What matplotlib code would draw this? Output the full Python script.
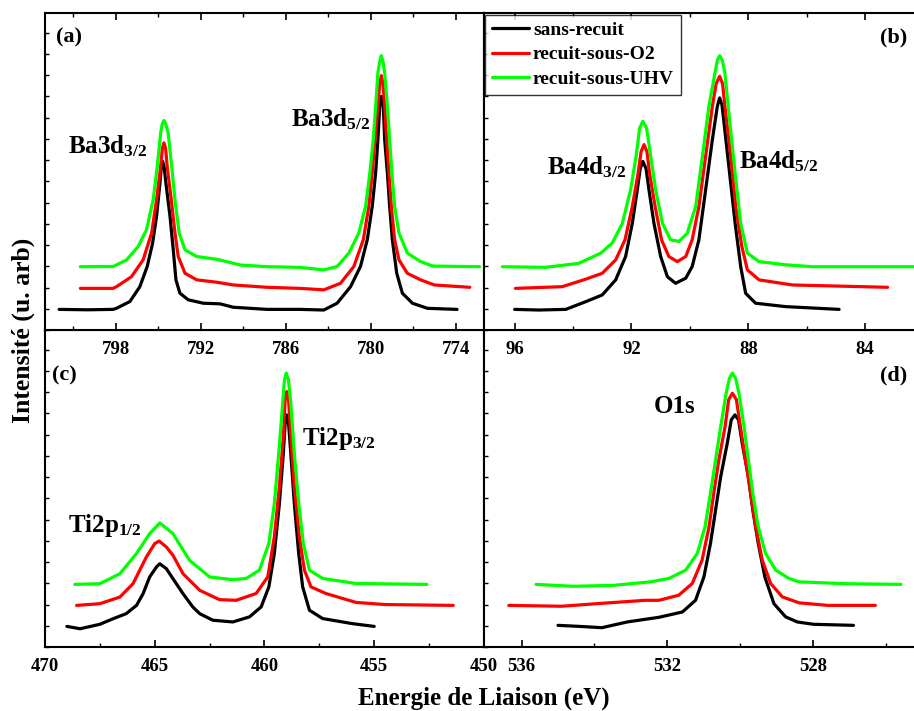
import matplotlib
matplotlib.use("Agg")
import matplotlib.pyplot as plt
from matplotlib.ticker import MultipleLocator, NullFormatter

plt.rcParams['font.family'] = ['Liberation Serif', 'DejaVu Serif']
plt.rcParams['font.weight'] = 'bold'
plt.rcParams['mathtext.fontset'] = 'custom'
plt.rcParams['mathtext.rm'] = 'Liberation Serif:bold'
plt.rcParams['mathtext.default'] = 'rm'

labels = ["sans-recuit", "recuit-sous-O2", "recuit-sous-UHV"]
colors = ["black", "red", "#00ff00"]

# (a) Ba3d
a_black_e = [802.0, 800.0, 798.2, 797.95, 797.0, 796.3, 795.78, 795.4, 795.12, 794.88, 794.79, 794.69,
             794.58, 794.46, 794.17, 793.94, 793.75, 793.47, 792.88, 791.82, 790.63, 789.7, 787.3, 785.0,
             783.31, 782.37, 781.42, 780.72, 780.24, 779.89, 779.65, 779.49, 779.36, 779.25, 779.11,
             779.01, 778.82, 778.66, 778.47, 778.16, 777.76, 777.05, 775.99, 773.9]
a_black_i = [0.97, 0.95, 0.97, 1.02, 1.34, 2.04, 2.99, 4.09, 5.35, 6.92, 7.65, 7.94,
             7.65, 6.92, 5.35, 3.77, 2.36, 1.73, 1.42, 1.26, 1.23, 1.07, 0.97, 0.97,
             0.94, 1.26, 2.04, 2.99, 4.25, 5.82, 7.39, 8.96, 10.53, 11.0, 10.53,
             8.96, 7.39, 5.82, 4.25, 2.67, 1.73, 1.26, 1.02, 0.97]
a_red_e = [800.5, 798.2, 797.95, 796.89, 796.07, 795.47, 795.12, 794.83, 794.71, 794.6, 794.48, 794.37,
           794.08, 793.82, 793.59, 793.11, 792.28, 790.87, 789.7, 787.3, 785.0, 783.31, 782.13, 781.19,
           780.52, 780.13, 779.89, 779.7, 779.49, 779.36, 779.25, 779.13, 779.01, 778.87, 778.71,
           778.54, 778.31, 778.0, 777.41, 776.47, 775.5, 773.0]
a_red_i = [1.96, 1.96, 2.04, 2.51, 3.3, 4.56, 6.13, 7.7, 8.55, 8.81, 8.55, 7.7,
           6.13, 4.56, 3.46, 2.67, 2.36, 2.25, 2.12, 2.01, 1.96, 1.89, 2.2, 2.99,
           4.25, 5.82, 7.39, 8.96, 10.53, 11.6, 11.98, 11.6, 10.53, 8.96, 7.39,
           5.82, 4.25, 3.3, 2.67, 2.36, 2.12, 2.01]
a_green_e = [800.5, 798.19, 797.24, 796.42, 795.83, 795.36, 795.07, 794.83, 794.72, 794.6, 794.47, 794.3,
             794.05, 793.82, 793.52, 793.11, 792.28, 790.87, 789.2, 787.3, 785.0, 783.31, 782.37, 781.54,
             780.84, 780.36, 780.06, 779.82, 779.65, 779.49, 779.36, 779.25, 779.13, 779.01, 778.82,
             778.66, 778.5, 778.31, 778.0, 777.41, 776.47, 775.6, 772.3]
a_green_i = [2.98, 2.99, 3.3, 3.93, 4.72, 6.13, 7.7, 9.28, 9.7, 9.87, 9.7, 9.28,
             7.7, 6.13, 4.56, 3.77, 3.46, 3.33, 3.06, 2.98, 2.95, 2.83, 2.99, 3.62,
             4.56, 5.82, 7.39, 8.96, 10.53, 12.11, 12.65, 12.92, 12.65, 12.11, 10.53,
             8.96, 7.39, 5.82, 4.56, 3.62, 3.22, 3.01, 2.98]

# (b) Ba4d
b_black_e = [96.0, 95.17, 94.25, 93.57, 93.0, 92.54, 92.2, 91.97, 91.8, 91.7, 91.61, 91.5, 91.4, 91.23,
             91.0, 90.77, 90.49, 90.14, 89.92, 89.69, 89.46, 89.23, 89.06, 88.98, 88.9, 88.83, 88.64,
             88.45, 88.26, 88.09, 87.75, 86.72, 84.89]
b_black_i = [0.97, 0.94, 0.97, 1.33, 1.65, 2.36, 3.46, 5.03, 6.6, 7.6, 7.94, 7.6, 6.6, 5.03,
             3.46, 2.51, 2.2, 2.44, 2.99, 4.25, 6.6, 8.96, 10.53, 10.93, 10.6, 9.75, 7.39,
             5.03, 2.99, 1.73, 1.26, 1.1, 0.97]
b_red_e = [95.97, 94.37, 93.57, 93.0, 92.54, 92.22, 91.97, 91.77, 91.67, 91.57, 91.47, 91.38, 91.19,
           90.97, 90.72, 90.43, 90.14, 89.92, 89.69, 89.46, 89.23, 89.1, 88.98, 88.88, 88.8, 88.6,
           88.43, 88.22, 88.03, 87.63, 86.49, 83.23]
b_red_i = [1.96, 2.04, 2.39, 2.67, 3.3, 4.25, 5.82, 7.39, 8.4, 8.73, 8.4, 7.39, 5.82,
           4.25, 3.46, 3.22, 3.46, 4.25, 5.82, 8.18, 10.53, 11.6, 11.95, 11.6, 10.53, 8.18,
           5.82, 3.93, 2.83, 2.36, 2.12, 2.01]
b_green_e = [96.42, 94.94, 93.8, 93.05, 92.66, 92.31, 92.03, 91.84, 91.72, 91.61, 91.48, 91.34, 91.17,
             90.94, 90.66, 90.37, 90.09, 89.8, 89.57, 89.35, 89.14, 89.06, 88.98, 88.89, 88.8, 88.63,
             88.45, 88.26, 88.03, 87.63, 86.72, 85.8, 82.2]
b_green_i = [2.98, 2.95, 3.14, 3.62, 4.09, 5.03, 6.6, 8.18, 9.5, 9.83, 9.5, 8.18, 6.6,
             5.03, 4.25, 4.17, 4.56, 5.82, 8.18, 10.53, 12.11, 12.7, 12.92, 12.7, 12.11, 9.75,
             7.39, 5.03, 3.62, 3.22, 3.07, 2.98, 2.98]

# (c) Ti2p
c_black_e = [469.0, 468.4, 467.5, 466.9, 466.3, 465.83, 465.53, 465.23, 464.92, 464.77, 464.47, 464.17,
             463.71, 463.26, 462.95, 462.35, 461.44, 460.68, 460.15, 459.8, 459.55, 459.32, 459.14,
             459.06, 458.99, 458.9, 458.8, 458.64, 458.44, 458.26, 457.95, 457.35, 455.99, 455.0]
c_black_i = [0.97, 0.86, 1.07, 1.33, 1.57, 1.96, 2.51, 3.3, 3.77, 3.92, 3.69, 3.22,
             2.51, 1.88, 1.57, 1.26, 1.18, 1.42, 1.89, 2.83, 4.4, 6.76, 9.12,
             10.5, 10.93, 10.5, 9.12, 6.76, 4.4, 2.83, 1.73, 1.34, 1.1, 0.97]
c_red_e = [468.56, 467.5, 466.59, 465.99, 465.38, 465.0, 464.8, 464.47, 464.17, 463.71, 462.95, 462.05,
           461.29, 460.38, 459.85, 459.55, 459.32, 459.14, 459.06, 458.99, 458.9, 458.8, 458.64, 458.41,
           458.18, 457.88, 457.2, 455.83, 454.5, 451.4]
c_red_i = [1.96, 2.04, 2.35, 2.98, 4.24, 4.87, 4.99, 4.71, 4.32, 3.45, 2.67, 2.23,
           2.2, 2.52, 3.3, 5.19, 7.55, 9.91, 11.6, 12.03, 11.6, 9.91, 7.55, 5.19,
           3.62, 2.83, 2.52, 2.1, 2.0, 1.96]
c_green_e = [468.64, 467.5, 466.59, 465.83, 465.23, 464.77, 464.17, 463.41, 462.5, 461.44, 460.83,
             460.23, 459.8, 459.55, 459.35, 459.17, 459.09, 459.01, 458.91, 458.8, 458.64, 458.44,
             458.23, 457.95, 457.35, 455.83, 452.6]
c_green_i = [2.95, 2.98, 3.45, 4.4, 5.34, 5.84, 5.34, 4.08, 3.3, 3.17, 3.23,
             3.62, 4.88, 6.76, 9.12, 11.48, 12.6, 12.9, 12.6, 11.48, 9.12, 6.76,
             4.88, 3.62, 3.23, 2.99, 2.95]

# (d) O1s
d_black_e = [535.0, 534.4, 533.8, 533.1, 532.23, 531.59, 531.23, 531.0, 530.82, 530.68, 530.54, 530.36,
             530.25, 530.15, 530.05, 529.95, 529.78, 529.66, 529.51, 529.33, 529.08, 528.76, 528.44,
             528.0, 526.9]
d_black_i = [1.02, 0.97, 0.91, 1.18, 1.4, 1.65, 2.2, 3.3, 4.88, 6.45, 8.02, 9.59,
             10.7, 10.93, 10.7, 9.59, 8.02, 6.45, 4.88, 3.3, 2.04, 1.42, 1.18,
             1.07, 1.02]
d_red_e = [536.35, 534.9, 533.7, 532.6, 532.23, 531.69, 531.32, 531.05, 530.86, 530.73, 530.59, 530.42,
           530.32, 530.22, 530.11, 530.0, 529.86, 529.72, 529.58, 529.4, 529.17, 528.85, 528.39, 527.6,
           526.3]
d_red_i = [1.96, 1.92, 2.07, 2.2, 2.2, 2.44, 2.99, 4.09, 5.66, 7.24, 8.81, 10.38,
           11.65, 11.95, 11.65, 10.38, 8.81, 7.24, 5.66, 4.09, 2.99, 2.36, 2.08, 1.96,
           1.96]
d_green_e = [535.6, 534.6, 533.5, 532.46, 531.96, 531.5, 531.18, 530.97, 530.82, 530.68, 530.54, 530.39,
             530.3, 530.22, 530.13, 530.04, 529.9, 529.78, 529.66, 529.51, 529.31, 529.03, 528.67,
             528.4, 527.1, 525.6]
d_green_i = [2.95, 2.86, 2.9, 3.07, 3.23, 3.62, 4.41, 5.66, 7.24, 8.81, 10.38, 11.95,
             12.65, 12.9, 12.65, 11.95, 10.38, 8.81, 7.24, 5.66, 4.41, 3.62, 3.23,
             3.07, 2.98, 2.95]

fig = plt.figure(figsize=(9.14, 7.11), dpi=100)
x0, xm, x1 = 0.0492, 0.5295, 1.004
yb, ym, yt = 0.0900, 0.5359, 0.9817
ax_c = fig.add_axes([x0, yb, xm - x0, ym - yb])
ax_d = fig.add_axes([xm, yb, x1 - xm, ym - yb])
ax_a = fig.add_axes([x0, ym, xm - x0, yt - ym])
ax_b = fig.add_axes([xm, ym, x1 - xm, yt - ym])
# top row tick labels sit over the bottom panels
ax_a.set_zorder(2)
ax_b.set_zorder(2)

panels = [
    (ax_a, [(a_black_e, a_black_i), (a_red_e, a_red_i), (a_green_e, a_green_i)], (803, 772), 6, 3),
    (ax_b, [(b_black_e, b_black_i), (b_red_e, b_red_i), (b_green_e, b_green_i)], (97.05, 82.2), 4, 2),
    (ax_c, [(c_black_e, c_black_i), (c_red_e, c_red_i), (c_green_e, c_green_i)], (470, 450), 5, 2.5),
    (ax_d, [(d_black_e, d_black_i), (d_red_e, d_red_i), (d_green_e, d_green_i)], (537.03, 525.14), 4, 2),
]

for ax, series, xlim, major, minor in panels:
    for (e, i), col, lab in zip(series, colors, labels):
        ax.plot(e, i, color=col, lw=2.3, label=lab, solid_joinstyle='round', solid_capstyle='round')
    ax.set_xlim(*xlim)
    ax.set_ylim(0, 14.93)
    ax.xaxis.set_major_locator(MultipleLocator(major))
    ax.xaxis.set_minor_locator(MultipleLocator(minor))
    ax.yaxis.set_major_locator(MultipleLocator(1))
    ax.yaxis.set_major_formatter(NullFormatter())
    ax.tick_params(axis='x', which='major', direction='in', length=5, width=1.2,
                   labelsize=13.5, pad=8)
    ax.tick_params(axis='x', which='minor', direction='in', length=3, width=1.0)
    ax.tick_params(axis='y', direction='in', length=3, width=1.0)
    for sp in ax.spines.values():
        sp.set_linewidth(1.5)
    for t in ax.get_xticklabels():
        t.set_fontweight('bold')

for ax in (ax_a, ax_b):
    ax.tick_params(axis='x', which='both', top=True)

ax_c.set_xticks([470, 465, 460, 455, 450])

# panel letters
ax_a.text(0.025, 0.924, "(a)", transform=ax_a.transAxes, fontsize=16, fontweight='bold', va='center')
ax_b.text(0.975, 0.924, "(b)", transform=ax_b.transAxes, fontsize=16, fontweight='bold', va='center', ha='right')
ax_c.text(0.016, 0.858, "(c)", transform=ax_c.transAxes, fontsize=16, fontweight='bold', va='center')
ax_d.text(0.975, 0.858, "(d)", transform=ax_d.transAxes, fontsize=16, fontweight='bold', va='center', ha='right')

# peak names
ax_a.text(801.4, 8.3, r"Ba3d$_{3/2}$", fontsize=18, fontweight='bold', va='baseline')
ax_a.text(785.6, 9.58, r"Ba3d$_{5/2}$", fontsize=18, fontweight='bold', va='baseline')
ax_b.text(94.9, 7.31, r"Ba4d$_{3/2}$", fontsize=18, fontweight='bold', va='baseline')
ax_b.text(88.31, 7.63, r"Ba4d$_{5/2}$", fontsize=18, fontweight='bold', va='baseline')
ax_c.text(458.29, 9.5, r"Ti2p$_{3/2}$", fontsize=18, fontweight='bold', va='baseline')
ax_c.text(468.94, 5.42, r"Ti2p$_{1/2}$", fontsize=18, fontweight='bold', va='baseline')
ax_d.text(532.37, 11.02, "O1s", fontsize=18, fontweight='bold', va='baseline')

leg = ax_b.legend(loc='upper left', bbox_to_anchor=(0.003, 0.995), fontsize=14, frameon=True,
                  fancybox=False, edgecolor='black', handlelength=1.9, handletextpad=0.2,
                  borderpad=0.35, labelspacing=0.35, borderaxespad=0)
leg.get_frame().set_linewidth(1.0)
for t in leg.get_texts():
    t.set_fontweight('bold')

fig.text(0.5296, 1 - 698 / 711, "Energie de Liaison (eV)", fontsize=18, fontweight='bold',
         ha='center', va='center')
fig.text(23 / 914, 1 - 330 / 711, "Intensité (u. arb)", fontsize=18.5, fontweight='bold',
         ha='center', va='center', rotation=90)

fig.savefig("out.png", dpi=100)
